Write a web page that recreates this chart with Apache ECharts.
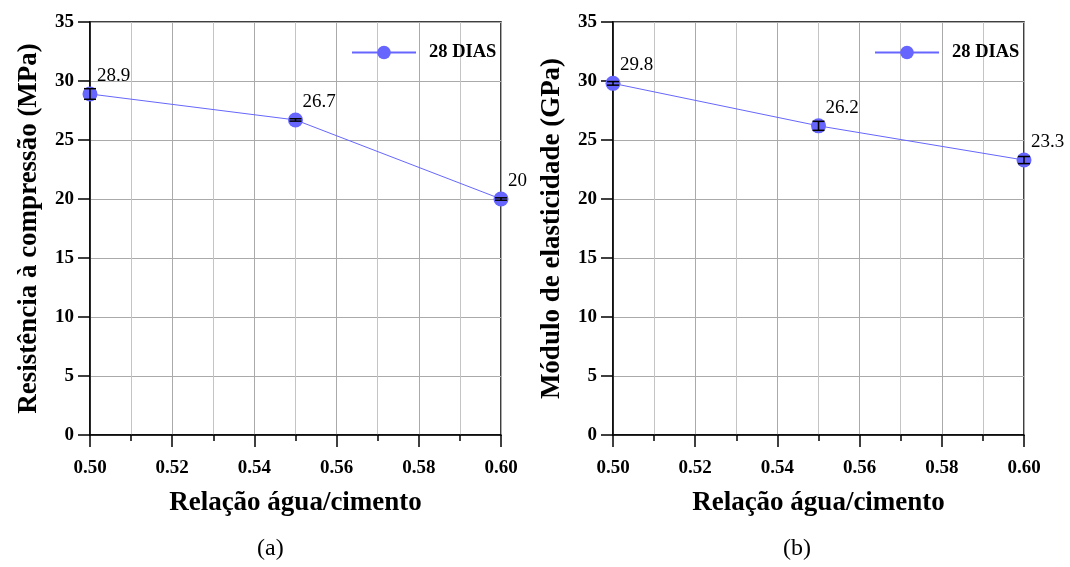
<!DOCTYPE html>
<html><head><meta charset="utf-8">
<script src="https://cdn.jsdelivr.net/npm/echarts@6/dist/echarts.min.js"></script>
<style>html,body{margin:0;padding:0;background:#fff}#c{width:1070px;height:567px}</style>
</head><body><div id="c"></div>
<script>
const ratios = [0.50, 0.55, 0.60];
const compressao = [28.9, 26.7, 20.0];
const compressaoErr = [0.45, 0.1, 0.1];
const modulo = [29.8, 26.2, 23.3];
const moduloErr = [0.15, 0.38, 0.3];
const seriesName = '28 DIAS';
const xTitle = 'Relação água/cimento';
const yTitleA = 'Resistência à compressão (MPa)';
const yTitleB = 'Módulo de elasticidade (GPa)';
const captions = ['(a)', '(b)'];

const serif = 'Liberation Serif, Times New Roman, serif';
const blue = '#6666ff';
const chart = echarts.init(document.getElementById('c'));

function xAxis(i){
  return {gridIndex:i, type:'value', min:0.5, max:0.6, interval:0.02,
    axisLine:{show:true,lineStyle:{color:'#000',width:1.5}},
    axisTick:{show:true,inside:false,length:12,lineStyle:{color:'#000',width:1.5}},
    minorTick:{show:true,splitNumber:2,length:6,lineStyle:{color:'#000',width:1.5}},
    splitLine:{show:true,lineStyle:{color:'#aaa',width:1}},
    minorSplitLine:{show:true,lineStyle:{color:'#c4c4c4',width:1}},
    axisLabel:{color:'#000',fontFamily:serif,fontWeight:'bold',fontSize:19,margin:24,
      formatter:v=>v.toFixed(2)},
    name:xTitle, nameLocation:'middle', nameGap:55,
    nameTextStyle:{color:'#000',fontFamily:serif,fontWeight:'bold',fontSize:27}};
}
function yAxis(i,title){
  return {gridIndex:i, type:'value', min:0, max:35, interval:5,
    axisLine:{show:true,lineStyle:{color:'#000',width:1.5}},
    axisTick:{show:true,inside:false,length:12,lineStyle:{color:'#000',width:1.5}},
    splitLine:{show:true,lineStyle:{color:'#aaa',width:1}},
    axisLabel:{color:'#000',fontFamily:serif,fontWeight:'bold',fontSize:19,margin:16},
    name:title, nameLocation:'middle', nameGap:47,
    nameTextStyle:{color:'#000',fontFamily:serif,fontWeight:'bold',fontSize:27}};
}
function lineSeries(i,vals){
  return {name:seriesName,type:'line',xAxisIndex:i,yAxisIndex:i,
    data:ratios.map((x,k)=>[x,vals[k]]),
    symbol:'circle',symbolSize:15,
    itemStyle:{color:blue},lineStyle:{color:blue,width:1},
    label:{show:true,position:'top',align:'left',offset:[7,0],distance:1,
      color:'#000',fontFamily:serif,fontSize:19,formatter:p=>String(p.value[1])},
    z:3};
}
function errSeries(i,vals,errs){
  return {type:'custom',xAxisIndex:i,yAxisIndex:i,
    data:ratios.map((x,k)=>[x,vals[k],errs[k]]),
    renderItem:(params,api)=>{
      const x=api.value(0),y=api.value(1),e=api.value(2);
      const lo=api.coord([x,y-e]),hi=api.coord([x,y+e]);
      const w=6;
      const st={stroke:'#000',lineWidth:1.5};
      return {type:'group',children:[
        {type:'line',shape:{x1:lo[0],y1:lo[1],x2:hi[0],y2:hi[1]},style:st},
        {type:'line',shape:{x1:lo[0]-w,y1:lo[1],x2:lo[0]+w,y2:lo[1]},style:st},
        {type:'line',shape:{x1:hi[0]-w,y1:hi[1],x2:hi[0]+w,y2:hi[1]},style:st}
      ]};
    },z:5,silent:true};
}
function legend(left){
  return {left:left,top:38,data:[seriesName],itemWidth:64,itemHeight:17,
    textStyle:{color:'#000',fontFamily:serif,fontWeight:'bold',fontSize:18.5,padding:[0,0,0,8]}};
}
chart.setOption({
  animation:false,
  grid:[
    {left:90,right:569,top:22,bottom:132,show:true,borderColor:'#000',borderWidth:1.5,backgroundColor:'transparent'},
    {left:613,right:46,top:22,bottom:132,show:true,borderColor:'#000',borderWidth:1.5,backgroundColor:'transparent'}
  ],
  xAxis:[xAxis(0),xAxis(1)],
  yAxis:[yAxis(0,yTitleA),yAxis(1,yTitleB)],
  legend:[legend(346),legend(869)],
  title:[
    {text:captions[0],left:252,top:532,textStyle:{color:'#000',fontFamily:serif,fontWeight:'normal',fontSize:24}},
    {text:captions[1],left:778,top:532,textStyle:{color:'#000',fontFamily:serif,fontWeight:'normal',fontSize:24}}
  ],
  series:[lineSeries(0,compressao),errSeries(0,compressao,compressaoErr),
          lineSeries(1,modulo),errSeries(1,modulo,moduloErr)]
});
</script></body></html>
